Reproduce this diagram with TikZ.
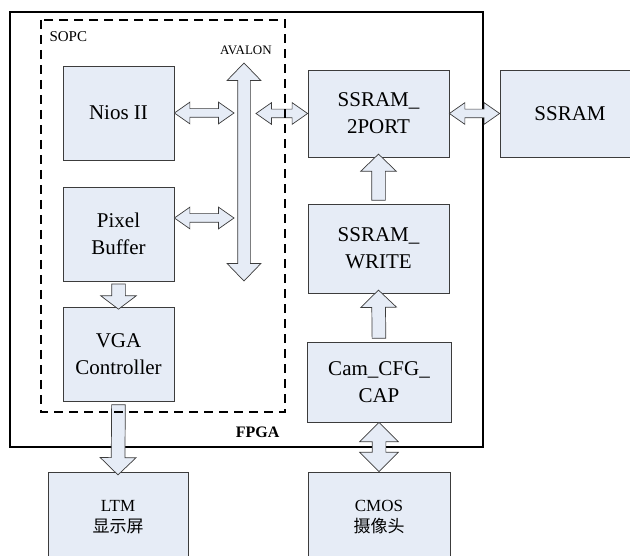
\documentclass[tikz,border=0pt]{standalone}
\usepackage{fontspec}
\setmainfont{Liberation Serif}
\newfontfamily\cjkfont{Noto Sans CJK SC}
\usetikzlibrary{shapes.arrows,calc}

\definecolor{blockfill}{RGB}{230,236,246}
\definecolor{blockline}{RGB}{60,60,60}

% fat arrow shape stretched between two points
\newcommand{\fatarrow}[4][]{%
  \path let \p1=#3, \p2=#4,
    \n1={veclen(\x2-\x1,\y2-\y1)}, \n2={atan2(\y2-\y1,\x2-\x1)} in
    node[#1, rotate=\n2, minimum height=\n1] (#2) at ($(\p1)!0.5!(\p2)$) {};}

\begin{document}
\begin{tikzpicture}[x=1pt, y=-1pt,
    block/.style={draw=blockline, fill=blockfill, line width=0.8pt, inner sep=0pt,
      align=center, font=\fontsize{21}{27}\selectfont},
    ext/.style={block, font=\fontsize{17}{21}\selectfont},
    hdbl/.style={double arrow, draw=blockline, fill=blockfill, line width=0.7pt,
      inner xsep=0pt, inner ysep=4pt, double arrow head extend=6.5pt, double arrow tip angle=70},
    busarrow/.style={hdbl, inner ysep=6pt, double arrow head extend=10.5pt, double arrow tip angle=88},
    vdbl/.style={hdbl, inner ysep=6.5pt, double arrow head extend=12.5pt, double arrow tip angle=90},
    fat/.style={single arrow, draw=blockline, fill=blockfill, line width=0.7pt,
      inner xsep=0pt, inner ysep=6.5pt, single arrow head extend=11pt, single arrow tip angle=92}]

    \useasboundingbox (0,0) rectangle (630,556);
    \clip (0,0) rectangle (630,556);

    % FPGA
    \draw[line width=1.4pt] (10,12) rectangle (483,447);
    \node[font=\bfseries\fontsize{16}{18}\selectfont, anchor=base east] (fpga) at (283,438) {FPGA};

    % blocks inside SOPC
    \node[block, minimum width=111pt, minimum height=94pt] (nios) at (118.5,113) {Nios II};
    \node[block, minimum width=111pt, minimum height=94pt] (pixel) at (118.5,234) {Pixel\\Buffer};
    \node[block, minimum width=111pt, minimum height=94pt] (vga) at (118.5,354) {VGA\\Controller};

    % right column
    \node[block, minimum width=141pt, minimum height=87pt] (port) at (378.5,113.5) {SSRAM\_\\2PORT};
    \node[block, minimum width=141pt, minimum height=89pt] (write) at (378.5,248.5) {SSRAM\_\\WRITE};
    \node[block, minimum width=144pt, minimum height=80pt] (cam) at (379,382) {Cam\_CFG\_\\CAP};
    \node[block, minimum width=140pt, minimum height=87pt] (ssram) at (570,113.5) {SSRAM};

    % outside devices
    \node[ext, minimum width=140pt, minimum height=90pt] (ltm) at (118,517) {LTM\\{\cjkfont 显示屏}};
    \node[ext, minimum width=142pt, minimum height=90pt] (cmos) at (379,517) {CMOS\\{\cjkfont 摄像头}};

    % Avalon bus
    \coordinate (avtop) at (244,63);
    \coordinate (avbot) at (244,281);
    \fatarrow[busarrow]{avalon}{(avtop)}{(avbot)}
    \node[font=\fontsize{13}{15}\selectfont, anchor=base] (avlabel) at (246,55) {AVALON};

    % connections
    \fatarrow[hdbl]{niosbus}{(nios.east)}{([xshift=-10pt]nios.east -| avtop)}
    \fatarrow[hdbl]{pixbus}{([yshift=16pt]pixel.east)}{([xshift=-10pt,yshift=16pt]pixel.east -| avtop)}
    \fatarrow[hdbl]{busport}{([xshift=12pt]port.west -| avtop)}{(port.west)}
    \fatarrow[hdbl]{portram}{(port.east)}{(ssram.west)}
    \fatarrow[fat, single arrow tip angle=106]{pixvga}{(pixel.south)}{(vga.north)}
    \fatarrow[fat]{vgaltm}{(vga.south)}{(ltm.north)}
    \fatarrow[fat]{writeport}{(write.north)}{(port.south)}
    \fatarrow[fat]{camwrite}{(cam.north)}{(write.south)}
    \fatarrow[vdbl]{camcmos}{(cam.south)}{(cmos.north)}

    % SOPC
    \draw[line width=1.8pt, dash pattern=on 9pt off 6pt] (41,20) rectangle (285,412);
    \node[font=\fontsize{15}{17}\selectfont, anchor=base west] (sopc) at (46,42) {SOPC};
\end{tikzpicture}
\end{document}
